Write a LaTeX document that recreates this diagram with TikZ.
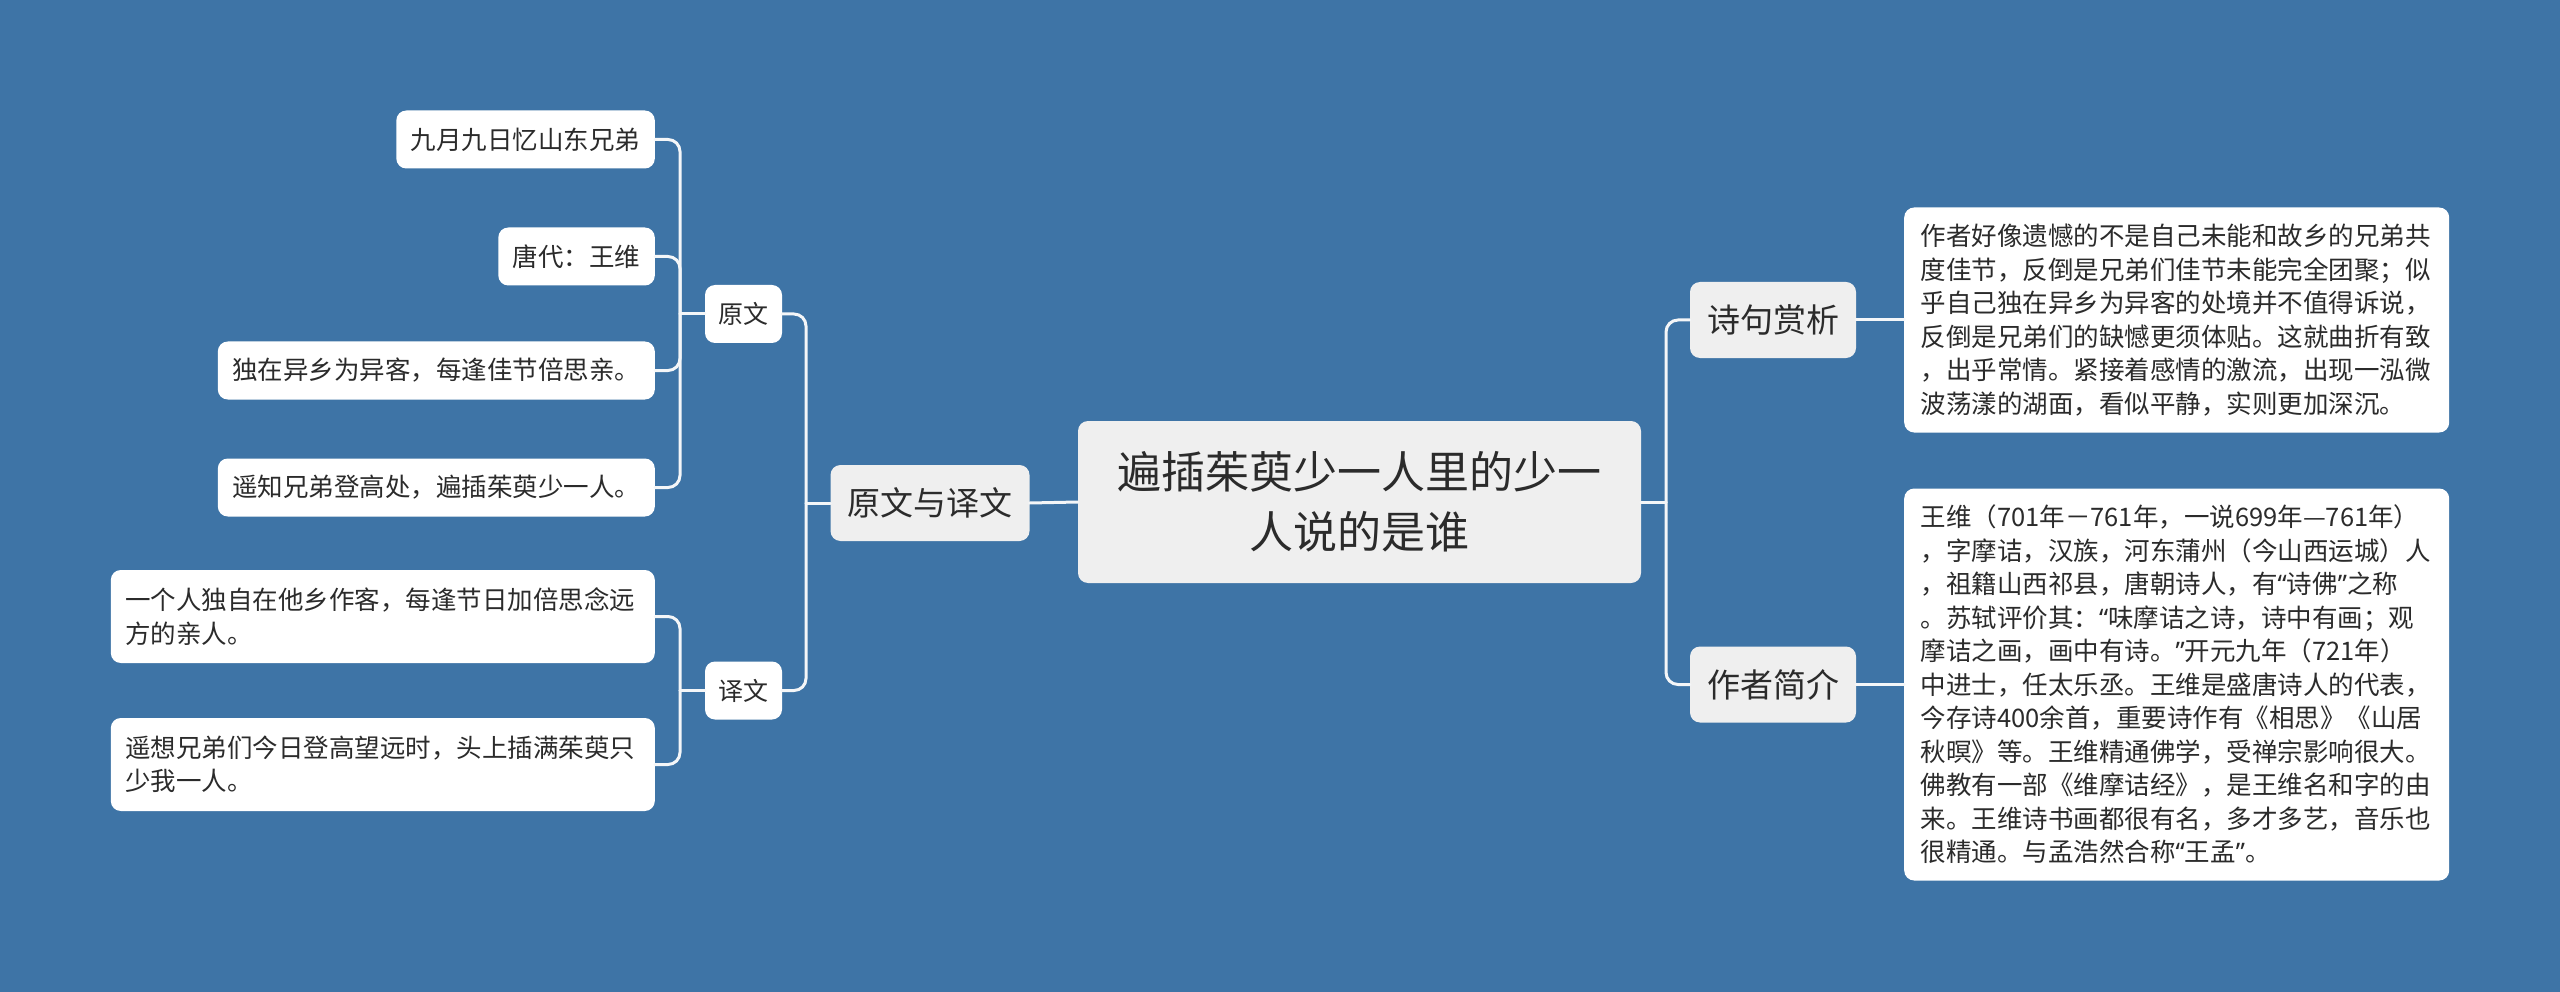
\documentclass[tikz,border=0pt]{standalone}
\usepackage{fontspec}
\setmainfont{Noto Sans CJK SC}
\newfontfamily\latq{Noto Sans}
\newcommand\myoq{{\latq “}}
\newcommand\mycq{{\latq ”}}
\definecolor{bg}{HTML}{3E74A6}
\definecolor{graybox}{HTML}{EFEFEF}
\definecolor{txt}{HTML}{2B2B2B}
\definecolor{linec}{HTML}{F4F6F8}
\tikzset{
  box/.style={rounded corners=10pt, text=txt, inner ysep=0pt},
  rootbox/.style={box, fill=graybox, minimum width=563pt, minimum height=162pt, align=center,
    font=\fontsize{44}{60}\selectfont},
  midbox/.style={box, fill=graybox, inner xsep=17pt, minimum height=76pt,
    font=\fontsize{33}{40}\selectfont},
  smallbox/.style={box, fill=white, inner xsep=13.5pt, minimum height=58pt,
    font=\fontsize{25}{32}\selectfont},
  leafbox/.style={box, fill=white, inner xsep=14.5pt, minimum height=58pt,
    font=\fontsize{25.5}{33.5}\selectfont},
  leafwide/.style={leafbox, text width=515pt, align=left, minimum height=93pt},
  parabox/.style={box, fill=white, inner xsep=16.5pt, text width=512pt, align=left,
    font=\fontsize{25.5}{33.5}\selectfont},
  conn/.style={draw=linec, line width=3pt, line cap=round, rounded corners=12pt}
}
\begin{document}
\begin{tikzpicture}[x=1pt,y=-1pt]
\fill[bg] (0,0) rectangle (2560,992);
\useasboundingbox (0,0) rectangle (2560,992);

% root
\node[rootbox] (root) at (1359.5,502) {遍插茱萸少一人里的少一\\人说的是谁};

% left side
\node[midbox] (yw) at (930,503) {原文与译文};
\node[smallbox] (a) at (743.5,314) {原文};
\node[smallbox] (b) at (743.5,690.5) {译文};

\node[leafbox, anchor=east] (a1) at (655,139.5) {九月九日忆山东兄弟};
\node[leafbox, anchor=east] (a2) at (655,256.5) {唐代：王维};
\node[leafbox, anchor=east] (a3) at (655,370.5) {独在异乡为异客，每逢佳节倍思亲。};
\node[leafbox, anchor=east] (a4) at (655,487.5) {遥知兄弟登高处，遍插茱萸少一人。};

\node[leafwide, anchor=east] (b1) at (655,616.5) {一个人独自在他乡作客，每逢节日加倍思念远\\方的亲人。};
\node[leafwide, anchor=east] (b2) at (655,764.5) {遥想兄弟们今日登高望远时，头上插满茱萸只\\少我一人。};

% right side
\node[midbox] (c) at (1773,320) {诗句赏析};
\node[midbox] (d) at (1773,684.5) {作者简介};

\node[parabox, anchor=west, minimum height=225pt] (c1) at (1904,320) {作者好像遗憾的不是自己未能和故乡的兄弟共\\度佳节，反倒是兄弟们佳节未能完全团聚；似\\乎自己独在异乡为异客的处境并不值得诉说，\\反倒是兄弟们的缺憾更须体贴。这就曲折有致\\，出乎常情。紧接着感情的激流，出现一泓微\\波荡漾的湖面，看似平静，实则更加深沉。};
\node[parabox, anchor=west, minimum height=392pt] (d1) at (1904,684.5) {王维（701年－761年，一说699年—761年）\\，字摩诘，汉族，河东蒲州（今山西运城）人\\，祖籍山西祁县，唐朝诗人，有\myoq 诗佛\mycq 之称\\。苏轼评价其：\myoq 味摩诘之诗，诗中有画；观\\摩诘之画，画中有诗。\mycq 开元九年（721年）\\中进士，任太乐丞。王维是盛唐诗人的代表，\\今存诗400余首，重要诗作有《相思》《山居\\秋暝》等。王维精通佛学，受禅宗影响很大。\\佛教有一部《维摩诘经》，是王维名和字的由\\来。王维诗书画都很有名，多才多艺，音乐也\\很精通。与孟浩然合称\myoq 王孟\mycq 。};

% trunk coordinates
\coordinate (tl) at (806,503);
\coordinate (ta) at (680,314);
\coordinate (tb) at (680,690.5);
\coordinate (tr) at (1666,502);

% connectors
\draw[conn] (root.west) -- (yw.east);
\draw[conn] (yw.west) -- (tl);
\draw[conn] (tl) |- (a.east);
\draw[conn] (tl) |- (b.east);

\draw[conn] (a.west) -- (ta);
\draw[conn] (ta) |- (a1.east);
\draw[conn] (ta) |- (a2.east);
\draw[conn] (ta) |- (a3.east);
\draw[conn] (ta) |- (a4.east);

\draw[conn] (b.west) -- (tb);
\draw[conn] (tb) |- (b1.east);
\draw[conn] (tb) |- (b2.east);

\draw[conn] (root.east) -- (tr);
\draw[conn] (tr) |- (c.west);
\draw[conn] (tr) |- (d.west);
\draw[conn] (c.east) -- (c1.west);
\draw[conn] (d.east) -- (d1.west);
\end{tikzpicture}
\end{document}
